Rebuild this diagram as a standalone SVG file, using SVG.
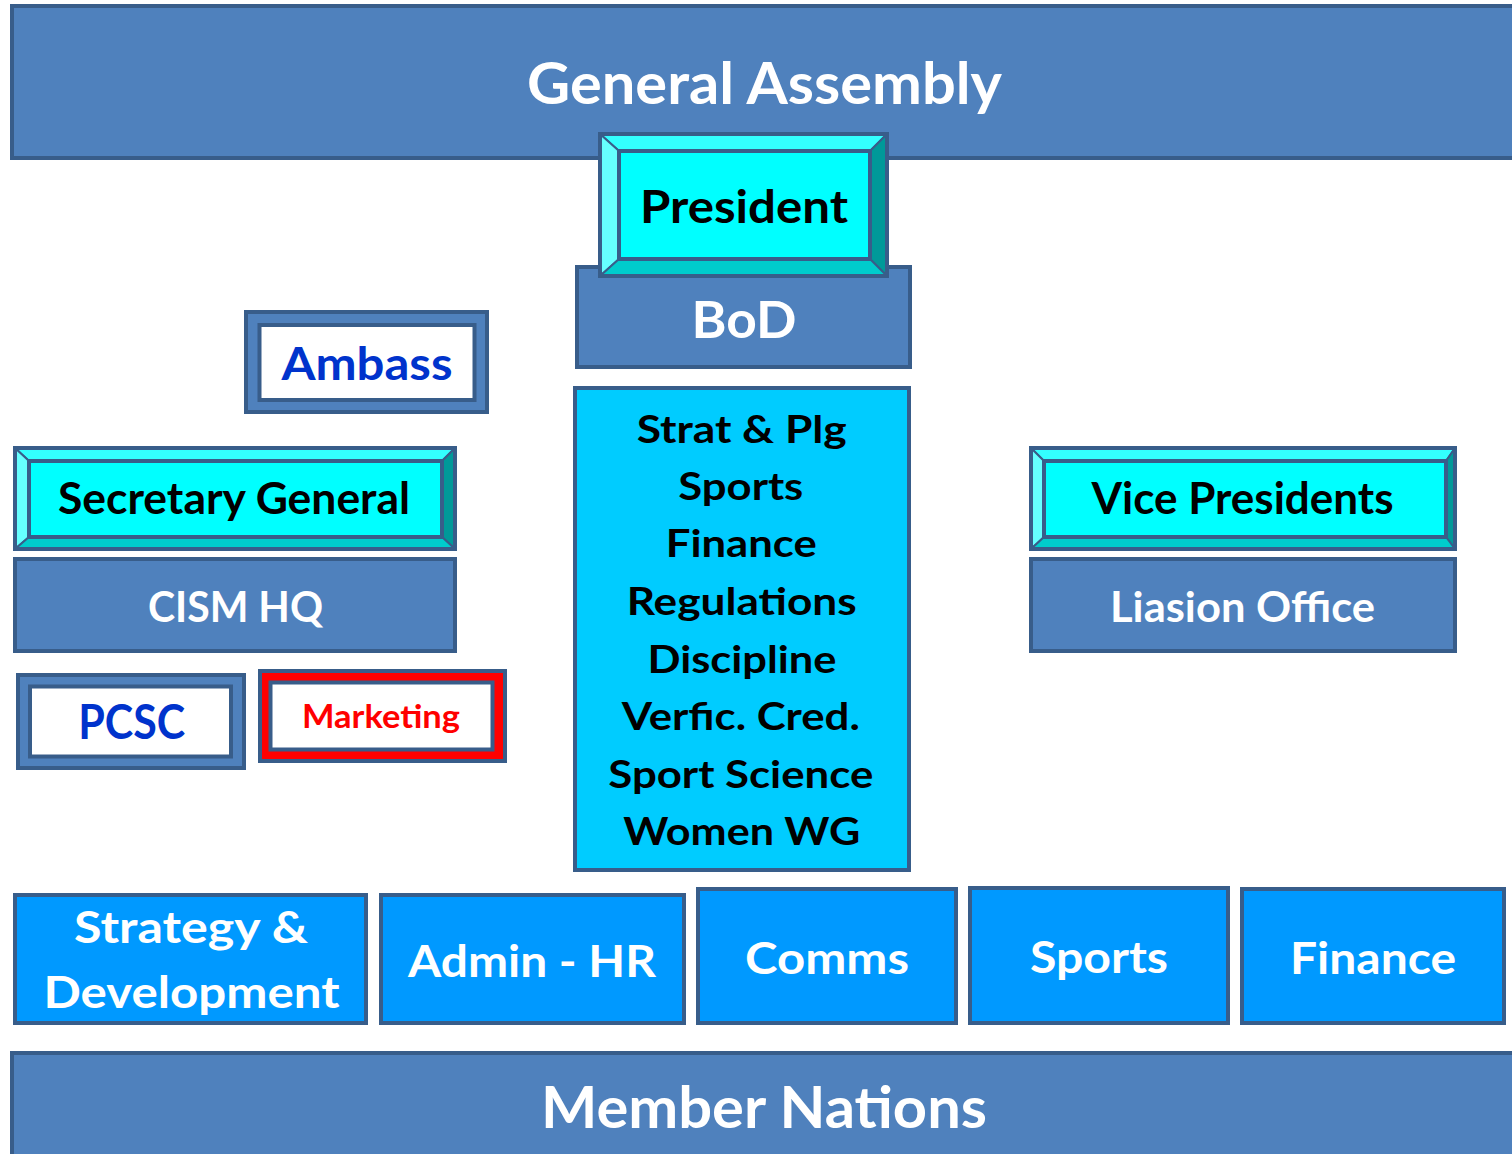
<svg xmlns="http://www.w3.org/2000/svg" width="1512" height="1154" viewBox="0 0 1512 1154">
<style>
.bar{fill:#4F81BD;stroke:#385D8A;stroke-width:4}
.dk{stroke:#385D8A;stroke-width:4}
.ln{stroke:#385D8A;stroke-width:2;stroke-linejoin:round}
.t{font-family:Lato,"Open Sans","Liberation Sans",sans-serif;font-weight:700;text-anchor:middle}
.w{fill:#FFFFFF}
.b{fill:#000000}
.blue{fill:#0033CC}
.red{fill:#FF0000}
.bt{fill:#33FFFF}
.bl{fill:#66FFFF}
.br{fill:#009999}
.bb{fill:#00CCCC}
.core{fill:#00FFFF;stroke:#385D8A;stroke-width:4}
.unit{fill:#0099FF;stroke:#385D8A;stroke-width:4}
</style>
<rect width="1512" height="1154" fill="#FFFFFF"/>
<g id="general-assembly">
<rect class="bar" x="12" y="6" width="1520" height="152"/>
<text class="t w" x="764.5" y="104" font-size="57" textLength="475" lengthAdjust="spacingAndGlyphs">General Assembly</text>
</g>
<g id="bod">
<rect class="bar" x="577" y="267" width="333" height="100"/>
<text class="t w" x="744" y="338" font-size="52" textLength="105" lengthAdjust="spacingAndGlyphs">BoD</text>
</g>
<g id="president">
<polygon class="bt ln" points="600,134 887,134 870,151 619,151"/>
<polygon class="bl ln" points="600,134 619,151 619,259 600,276"/>
<polygon class="br ln" points="887,134 887,276 870,259 870,151"/>
<polygon class="bb ln" points="600,276 619,259 870,259 887,276"/>
<rect class="core" x="619" y="151" width="251" height="108"/>
<rect class="dk" x="600" y="134" width="287" height="142" fill="none"/>
<text class="t b" x="744" y="223" font-size="46" textLength="208" lengthAdjust="spacingAndGlyphs">President</text>
</g>
<g id="ambass">
<rect class="bar" x="246" y="312" width="241" height="100"/>
<rect class="dk" x="259.5" y="325" width="215" height="75" fill="#FFFFFF"/>
<text class="t blue" x="367" y="380" font-size="46" textLength="171" lengthAdjust="spacingAndGlyphs">Ambass</text>
</g>
<g id="secretary-general">
<polygon class="bt ln" points="15,448 455,448 442,461 29,461"/>
<polygon class="bl ln" points="15,448 29,461 29,537 15,549"/>
<polygon class="br ln" points="455,448 455,549 442,537 442,461"/>
<polygon class="bb ln" points="15,549 29,537 442,537 455,549"/>
<rect class="core" x="29" y="461" width="413" height="76"/>
<rect class="dk" x="15" y="448" width="440" height="101" fill="none"/>
<text class="t b" x="234" y="514" font-size="43" textLength="352" lengthAdjust="spacingAndGlyphs">Secretary General</text>
</g>
<g id="cism-hq">
<rect class="bar" x="15" y="559" width="440" height="92"/>
<text class="t w" x="235.5" y="622" font-size="42" textLength="175" lengthAdjust="spacingAndGlyphs">CISM HQ</text>
</g>
<g id="pcsc">
<rect class="bar" x="18" y="675" width="226" height="93"/>
<rect class="dk" x="30" y="686.5" width="201" height="70" fill="#FFFFFF"/>
<text class="t blue" x="131.7" y="739" font-size="47" textLength="107" lengthAdjust="spacingAndGlyphs">PCSC</text>
</g>
<g id="marketing">
<rect x="260" y="671" width="245" height="90" fill="#FF0000" stroke="#385D8A" stroke-width="4"/>
<rect class="dk" x="270.5" y="682.5" width="222" height="67" fill="#FFFFFF"/>
<text class="t red" x="381" y="728" font-size="32" textLength="158" lengthAdjust="spacingAndGlyphs">Marketing</text>
</g>
<g id="committees">
<rect x="575" y="388" width="334" height="482" fill="#00CCFF" stroke="#385D8A" stroke-width="4"/>
<text class="t b" x="741.7" y="443" font-size="38" textLength="210" lengthAdjust="spacingAndGlyphs">Strat &amp; Plg</text>
<text class="t b" x="740.8" y="500" font-size="38" textLength="125" lengthAdjust="spacingAndGlyphs">Sports</text>
<text class="t b" x="741.3" y="557" font-size="38" textLength="151" lengthAdjust="spacingAndGlyphs">Finance</text>
<text class="t b" x="741.7" y="615" font-size="38" textLength="230" lengthAdjust="spacingAndGlyphs">Regulations</text>
<text class="t b" x="742" y="673" font-size="38" textLength="189" lengthAdjust="spacingAndGlyphs">Discipline</text>
<text class="t b" x="740.8" y="730" font-size="38" textLength="238" lengthAdjust="spacingAndGlyphs">Verfic. Cred.</text>
<text class="t b" x="740.8" y="788" font-size="38" textLength="265" lengthAdjust="spacingAndGlyphs">Sport Science</text>
<text class="t b" x="741.7" y="845" font-size="38" textLength="237" lengthAdjust="spacingAndGlyphs">Women WG</text>
</g>
<g id="vice-presidents">
<polygon class="bt ln" points="1031,448 1455,448 1446,461 1044,461"/>
<polygon class="bl ln" points="1031,448 1044,461 1044,537 1031,549"/>
<polygon class="br ln" points="1455,448 1455,549 1446,537 1446,461"/>
<polygon class="bb ln" points="1031,549 1044,537 1446,537 1455,549"/>
<rect class="core" x="1044" y="461" width="402" height="76"/>
<rect class="dk" x="1031" y="448" width="424" height="101" fill="none"/>
<text class="t b" x="1242.5" y="514" font-size="43" textLength="302" lengthAdjust="spacingAndGlyphs">Vice Presidents</text>
</g>
<g id="liaison-office">
<rect class="bar" x="1031" y="559" width="424" height="92"/>
<text class="t w" x="1242.5" y="622" font-size="42" textLength="265" lengthAdjust="spacingAndGlyphs">Liasion Office</text>
</g>
<g id="strategy-development">
<rect class="unit" x="15" y="895" width="351" height="128"/>
<text class="t w" x="191" y="943" font-size="43" textLength="234" lengthAdjust="spacingAndGlyphs">Strategy &amp;</text>
<text class="t w" x="191.5" y="1008" font-size="43" textLength="296" lengthAdjust="spacingAndGlyphs">Development</text>
</g>
<g id="admin-hr">
<rect class="unit" x="381" y="895" width="303" height="128"/>
<text class="t w" x="532" y="977" font-size="43" textLength="248" lengthAdjust="spacingAndGlyphs">Admin - HR</text>
</g>
<g id="comms">
<rect class="unit" x="698" y="889" width="258" height="134"/>
<text class="t w" x="827" y="974" font-size="43" textLength="164" lengthAdjust="spacingAndGlyphs">Comms</text>
</g>
<g id="sports">
<rect class="unit" x="970" y="888" width="258" height="135"/>
<text class="t w" x="1099" y="973" font-size="43" textLength="138" lengthAdjust="spacingAndGlyphs">Sports</text>
</g>
<g id="finance">
<rect class="unit" x="1242" y="889" width="262" height="134"/>
<text class="t w" x="1373" y="974" font-size="43" textLength="166" lengthAdjust="spacingAndGlyphs">Finance</text>
</g>
<g id="member-nations">
<rect class="bar" x="12" y="1053" width="1520" height="120"/>
<text class="t w" x="764" y="1128" font-size="57" textLength="446" lengthAdjust="spacingAndGlyphs">Member Nations</text>
</g>
<g id="connectors"></g>
</svg>
